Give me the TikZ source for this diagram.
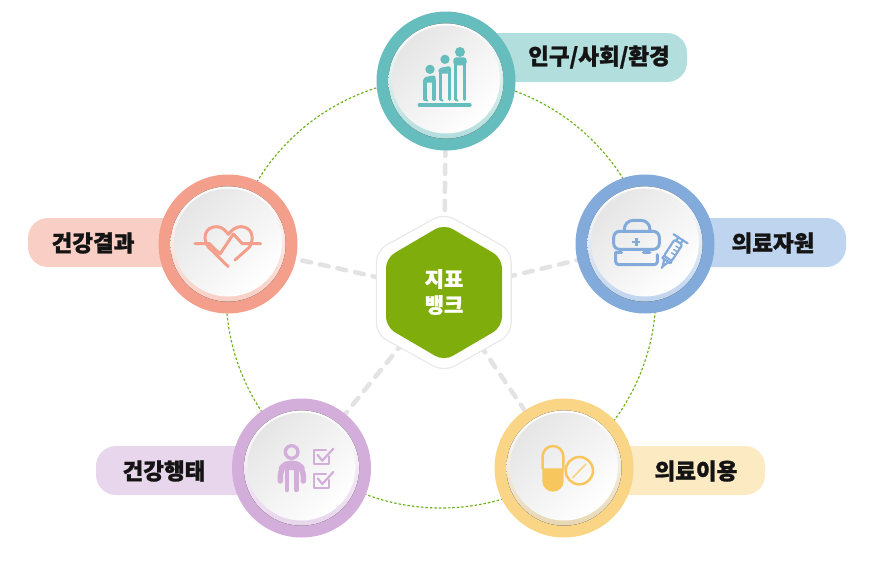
\documentclass[tikz,border=0pt]{standalone}
\usepackage{fontspec}
\newfontfamily\kr{Noto Sans CJK KR}[BoldFeatures={FakeBold=1.2}]
\usetikzlibrary{backgrounds}
\definecolor{cTeal}{HTML}{66BDBD}\definecolor{pTeal}{HTML}{B2DEDD}
\definecolor{cBlue}{HTML}{82ABDC}\definecolor{pBlue}{HTML}{BFD4EE}
\definecolor{cSalm}{HTML}{F49F8B}\definecolor{pSalm}{HTML}{F9CFC5}
\definecolor{cPurp}{HTML}{D4AEDA}\definecolor{pPurp}{HTML}{E8D6EC}
\definecolor{cYell}{HTML}{F9D585}\definecolor{pYell}{HTML}{FCEAC3}
\definecolor{capsule}{HTML}{F7C65C}
\definecolor{hubGreen}{HTML}{7FAE0C}
\definecolor{dotGreen}{HTML}{6CB31A}
\definecolor{dashGray}{HTML}{E3E3E3}
\tikzset{
  ring/.style={circle,draw=#1,fill=white,line width=12pt,minimum size=127pt,inner sep=0pt},
  pill/.style={fill=#1,rounded corners=20pt,minimum height=49pt,inner sep=0pt,draw=none},
  tag/.style={font=\kr\bfseries\fontsize{22.5}{25}\selectfont,text=black!92,inner sep=0pt},
  spoke/.style={draw=dashGray,line width=4.5pt,line cap=round,dash pattern=on 9pt off 9pt},
  orbit/.style={draw=dotGreen,line width=1.15pt,dash pattern=on 2.5pt off 2pt},
  iconpen/.style={draw=#1,line width=3pt,line cap=round,line join=round,fill=none},
  thinpen/.style={draw=#1,line width=2.2pt,line cap=round,line join=round,fill=none},
  glow/.style={left color=black!10,right color=white,shading angle=45},
}
\begin{document}
\begin{tikzpicture}[x=1pt,y=-1pt]
\useasboundingbox (0,0) rectangle (892,582);

% pills
\node[pill=pTeal,minimum width=217pt] (pt) at (578.5,57.5) {};
\node[pill=pBlue,minimum width=216pt] (pr) at (738,242.5) {};
\node[pill=pSalm,minimum width=216pt] (pl) at (136,242.5) {};
\node[pill=pPurp,minimum width=216pt] (pbl) at (204,470.5) {};
\node[pill=pYell,minimum width=216pt] (pbr) at (657,470.5) {};

% rings
\node[ring=cTeal] (top) at (446,81) {};
\node[ring=cBlue] (right) at (645,244) {};
\node[ring=cSalm] (left) at (228,244) {};
\node[ring=cPurp] (bl) at (301.5,468) {};
\node[ring=cYell] (br) at (564,468) {};

\fill[top color=white,bottom color=pTeal] (446,81) circle[radius=57.6];
\shade[glow] (446,79.5) circle[radius=54];
\fill[top color=white,bottom color=pBlue] (645,244) circle[radius=57.6];
\shade[glow] (645,242.5) circle[radius=54];
\fill[top color=white,bottom color=pSalm] (228,244) circle[radius=57.6];
\shade[glow] (228,242.5) circle[radius=54];
\fill[top color=white,bottom color=pPurp] (301.5,468) circle[radius=57.6];
\shade[glow] (301.5,466.5) circle[radius=54];
\fill[top color=white,bottom color=pYell!92!black] (564,468) circle[radius=57.6];
\shade[glow] (564,466.5) circle[radius=54];

% hexagon
\draw[line width=2.5pt,black!9,rounded corners=11pt] (444,214)--(510.5,251)--(510.5,334)--(444,371)--(377,334)--(377,251)--cycle;
\fill[white,rounded corners=11pt] (444,214)--(510.5,251)--(510.5,334)--(444,371)--(377,334)--(377,251)--cycle;
\fill[hubGreen,rounded corners=10pt] (444,224)--(502,258)--(502,327)--(444,361)--(386,327)--(386,258)--cycle;
\node[circle,minimum size=128pt,inner sep=0pt,align=center,text=white,font=\kr\bfseries\fontsize{21}{26}\selectfont] (hub) at (444,292) {지표\\뱅크};

% labels
\node[tag] (t1) at (599,57) {인구/사회/환경};
\node[tag] (t2) at (773,243) {의료자원};
\node[tag] (t3) at (93,243) {건강결과};
\node[tag] (t4) at (164,471) {건강행태};
\node[tag] (t5) at (696,471) {의료이용};

% connectors and orbit
\begin{pgfonlayer}{background}
\fill[white] (0,0) rectangle (892,582);
\coordinate (orbitc) at (441,293);
\draw[orbit] (orbitc) circle[radius=215];
\draw[spoke] (hub) -- (top);
\draw[spoke] (hub) -- (right);
\draw[spoke] (hub) -- (left);
\draw[spoke] (hub) -- (bl);
\draw[spoke] (hub) -- (br);
\end{pgfonlayer}

% icon: population
\begin{scope}[shift={(370,0)},x=.3333pt,y=-.3333pt,cTeal]
\draw[iconpen=cTeal,line width=3.4pt] (148,315)--(300,315);
\fill (180,208) circle[radius=14];
\fill (225,178) circle[radius=14];
\fill (270,156) circle[radius=15];
\draw[iconpen=cTeal,line width=3.2pt] (165,298)--(165,242)--(192,242)--(192,298);
\draw[iconpen=cTeal,line width=3.2pt] (211,298)--(211,215)--(238,215)--(238,298);
\draw[iconpen=cTeal,line width=3.2pt] (256,298)--(256,190)--(284,190)--(284,298);
\fill[rounded corners=3pt] (160,248)--(160,232)--(197,225)--(197,248)--cycle;
\fill[rounded corners=3pt] (205,221)--(205,205)--(243,197)--(243,221)--cycle;
\fill[rounded corners=3pt] (250,196)--(250,172)--(290,172)--(290,196)--cycle;
\draw[iconpen=cTeal,line width=2pt] (165,298)--(172,302);
\draw[iconpen=cTeal,line width=2pt] (211,298)--(218,302);
\draw[iconpen=cTeal,line width=2pt] (256,298)--(263,302);
\end{scope}

% icon: medical kit and syringe
\begin{scope}[shift={(560,170)},x=.3333pt,y=-.3333pt]
\draw[iconpen=cBlue,rounded corners=6pt] (161,184) rectangle (298,238);
\draw[iconpen=cBlue,rounded corners=9pt] (193,184)--(193,151)--(270,151)--(270,184);
\draw[iconpen=cBlue,rounded corners=3pt] (167,248)--(167,284)--(292,284)--(292,254);
\draw[iconpen=cBlue] (167,248)--(185,248);
\draw[iconpen=cBlue] (250,248)--(270,248);
\fill[cBlue] (224,204) rectangle (233,228);
\fill[cBlue] (217,212) rectangle (240,220);
\begin{scope}[shift={(340,240)},rotate=-33]
\draw[thinpen=cBlue,rounded corners=2pt] (-14,-28) rectangle (14,30);
\draw[thinpen=cBlue] (-14,38)--(14,38);
\draw[thinpen=cBlue] (-25,-40)--(25,-40);
\draw[thinpen=cBlue] (-8,-28)--(-8,-40);
\draw[thinpen=cBlue] (8,-28)--(8,-40);
\draw[thinpen=cBlue] (-8,38)--(0,58)--(8,38);
\draw[thinpen=cBlue] (0,58)--(0,64);
\draw[thinpen=cBlue] (-14,30)--(-14,38) (14,30)--(14,38);
\draw[thinpen=cBlue,line width=1.5pt] (0,-14)--(14,-14) (0,-2)--(14,-2) (0,10)--(14,10);
\end{scope}
\end{scope}

% icon: heart
\begin{scope}[shift={(20,170)},x=.3333pt,y=-.3333pt]
\draw[iconpen=cSalm] (625,290)--(566,232) .. controls (545,205) and (555,170) .. (590,170) .. controls (605,170) and (618,182) .. (625,193) .. controls (635,180) and (648,170) .. (662,170) .. controls (697,170) and (705,205) .. (688,232)--(645,270);
\draw[iconpen=cSalm] (525,221)--(568,221)--(600,252)--(640,192)--(667,221)--(722,221);
\end{scope}

% icon: person with checks
\begin{scope}[shift={(90,395)},x=.3333pt,y=-.3333pt]
\draw[cPurp,line width=3.3pt] (605,171) circle[radius=19];
\draw[iconpen=cPurp,line width=5.5pt,rounded corners=7pt] (571,258)--(571,222)--(590,205)--(620,205)--(640,222)--(640,258);
\fill[cPurp,rounded corners=4pt] (580,198) rectangle (630,225);
\draw[iconpen=cPurp,line width=4.5pt] (591,226)--(591,285);
\draw[iconpen=cPurp,line width=4.5pt] (619,226)--(619,285);
\draw[thinpen=cPurp] (718,184)--(718,208)--(671,208)--(671,166)--(708,166);
\draw[thinpen=cPurp] (683,180)--(697,197)--(730,161);
\draw[thinpen=cPurp] (718,255)--(718,278)--(671,278)--(671,236)--(708,236);
\draw[thinpen=cPurp] (683,250)--(697,267)--(730,231);
\end{scope}

% icon: capsule and tablet
\begin{scope}[shift={(485,395)},x=.3333pt,y=-.3333pt]
\fill[capsule] (172,220)--(236,220)--(236,258) arc[start angle=0,end angle=180,radius=32]--cycle;
\draw[thinpen=capsule,line width=2.5pt] (173,220)--(173,184) arc[start angle=180,end angle=360,radius=31]--(235,220);
\draw[thinpen=capsule,line width=2.5pt] (283,227) circle[radius=41];
\draw[thinpen=cYell,line width=1.7pt] (263,248)--(303,207);
\end{scope}
\end{tikzpicture}
\end{document}
